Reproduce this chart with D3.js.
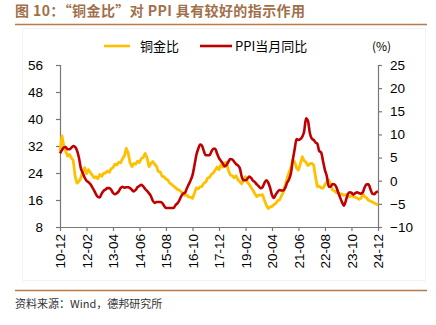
<!DOCTYPE html>
<html><head><meta charset="utf-8">
<script src="https://cdn.jsdelivr.net/npm/d3@7"></script>
<style>
html,body{margin:0;padding:0;background:#fff;}
svg{display:block;font-family:"Liberation Sans",Arial,sans-serif;}
</style></head>
<body>
<svg id="c" width="436" height="325"></svg>
<script>
// ---- data ----
const startMonth = "2010-12";
const tickLabels = ["10-12","12-02","13-04","14-06","15-08","16-10","17-12","19-02","20-04","21-06","22-08","23-10","24-12"];
const seriesNames = ["铜金比","PPI当月同比"];
// copper/gold ratio (left axis), monthly 2010-12 .. 2024-12
const copperGold = [
30.5,35.0,32.0,30.5,29.0,29.5,28.5,27.8,23.0,21.0,21.5,22.5,
24.5,25.6,23.8,25.0,24.2,23.4,22.6,22.9,22.3,23.6,23.0,23.9,
24.0,24.6,24.2,25.2,25.6,26.6,26.4,27.2,27.0,28.2,29.0,31.3,
30.0,27.0,25.9,26.8,26.6,27.5,27.1,28.3,28.6,29.8,28.5,25.9,
26.8,27.4,26.6,26.0,24.4,24.3,23.0,22.9,22.2,21.9,21.0,20.6,
20.1,19.7,19.1,19.0,18.4,18.1,17.4,17.5,16.9,16.8,16.5,18.0,
19.6,19.3,19.9,20.0,21.0,21.3,22.5,22.7,23.6,24.0,24.9,25.8,
25.0,26.4,25.8,26.9,27.2,24.8,23.4,23.2,22.6,23.2,22.0,21.4,
20.8,22.0,22.9,21.3,20.6,19.7,18.9,17.8,17.0,17.5,17.4,17.6,
16.0,14.5,13.5,13.9,14.1,14.6,15.0,15.8,16.0,17.2,18.3,20.5,
22.5,24.2,25.6,27.9,27.3,25.5,24.9,26.7,28.8,27.6,27.2,26.2,
26.7,26.9,26.3,23.0,19.9,20.1,19.6,19.5,20.6,21.4,21.9,20.3,
19.0,18.7,18.2,18.1,17.7,17.8,17.4,17.6,17.1,17.0,17.3,16.9,
16.8,16.6,16.2,16.5,17.8,17.0,16.6,15.9,15.7,15.4,15.1,14.8,
14.5];
// PPI YoY % (right axis), monthly 2010-12 .. 2024-12
const ppi = [
5.9,6.6,7.2,7.3,6.8,6.8,7.1,7.5,7.3,6.5,5.0,2.7,1.7,
0.7,0.0,-0.3,-0.7,-1.4,-2.1,-2.9,-3.5,-3.6,-2.8,-2.2,-1.9,
-1.6,-1.6,-1.9,-2.6,-2.9,-2.7,-2.3,-1.6,-1.3,-1.5,-1.4,-1.4,
-1.6,-2.0,-2.3,-2.0,-1.4,-1.1,-0.9,-1.2,-1.8,-2.2,-2.7,-3.3,
-4.3,-4.8,-4.6,-4.6,-4.6,-4.8,-5.4,-5.9,-5.9,-5.9,-5.9,-5.9,
-5.3,-4.9,-4.3,-3.4,-2.8,-2.6,-1.7,-0.8,0.1,1.2,3.3,5.5,
6.9,7.8,7.6,6.4,5.5,5.5,5.5,6.3,6.9,6.9,5.8,4.9,
4.3,3.7,3.1,3.4,4.1,4.7,4.6,4.1,3.6,3.3,2.7,0.9,
0.1,0.1,0.4,0.9,0.6,0.0,-0.3,-0.8,-1.2,-1.6,-1.4,-0.5,
0.1,-0.4,-1.5,-3.1,-3.7,-3.0,-2.4,-2.0,-2.1,-2.1,-1.5,-0.4,
0.3,1.7,4.4,6.8,9.0,8.8,9.0,9.5,10.7,13.5,12.9,10.3,
9.1,8.8,8.3,8.0,6.4,6.1,4.2,2.3,0.9,-1.3,-1.3,-0.7,
-0.8,-1.4,-2.5,-3.6,-4.6,-5.4,-4.4,-3.0,-2.5,-2.6,-3.0,-2.7,
-2.5,-2.7,-2.8,-2.5,-1.4,-0.8,-0.8,-1.8,-2.8,-2.9,-2.5,-2.3];
const leftTicks = [8,16,24,32,40,48,56];
const rightTicks = [-10,-5,0,5,10,15,20,25];

// ---- chart ----
const svg = d3.select("#c");
const brown = "#b97a4a";
const L = 60, R = 378, T = 65, B = 227;

const parse = d3.timeParse("%Y-%m");
const t0 = parse(startMonth);
const dates = copperGold.map((_, i) => d3.timeMonth.offset(t0, i));
const tickDates = tickLabels.map(s => parse("20" + s));

const x = d3.scaleTime().domain([dates[0], dates[dates.length - 1]]).range([L, R]);
const yL = d3.scaleLinear().domain([8, 56]).range([B, T]);
const yR = d3.scaleLinear().domain([-10, 25]).range([B, T]);

// faint frame
svg.append("rect").attr("x", 22.5).attr("y", 28.5).attr("width", 403).attr("height", 252)
  .attr("fill", "none").attr("stroke", "#f3f3f3");

// title
svg.append("text").attr("x", 15).attr("y", 16)
  .attr("font-family", "'Noto Sans CJK SC',sans-serif").attr("font-weight", "bold")
  .attr("font-size", 14).attr("fill", "#a0704a").attr("letter-spacing", 0.4)
  .text("图 10：“铜金比”对 PPI 具有较好的指示作用");
svg.append("line").attr("x1", 15).attr("x2", 427).attr("y1", 24.5).attr("y2", 24.5)
  .attr("stroke", brown).attr("stroke-width", 1.6);

// footer
svg.append("line").attr("x1", 15).attr("x2", 427).attr("y1", 290.5).attr("y2", 290.5)
  .attr("stroke", brown).attr("stroke-width", 1.6);
svg.append("text").attr("x", 15).attr("y", 308)
  .attr("font-family", "'Noto Sans CJK SC',sans-serif")
  .attr("font-size", 11).attr("fill", "#333")
  .text("资料来源：Wind，德邦研究所");

// axes
const axisColor = "#777";
const gL = svg.append("g").attr("transform", `translate(${L},0)`)
  .call(d3.axisLeft(yL).tickValues(leftTicks).tickSize(4).tickPadding(13).tickFormat(d3.format("d")));
const gR = svg.append("g").attr("transform", `translate(${R},0)`)
  .call(d3.axisRight(yR).tickValues(rightTicks).tickSize(4).tickPadding(8).tickFormat(d3.format("d")));
const gB = svg.append("g").attr("transform", `translate(0,${B})`)
  .call(d3.axisBottom(x).tickValues(tickDates).tickSize(4).tickFormat((d, i) => tickLabels[i]));
[gL, gR, gB].forEach(g => {
  g.select(".domain").attr("stroke", axisColor).attr("stroke-width", 1.2);
  g.selectAll(".tick line").attr("stroke", axisColor).attr("stroke-width", 1.2);
  g.selectAll("text").attr("font-size", 13.5).attr("fill", "#000")
    .attr("font-family", "'Liberation Sans',Arial,sans-serif");
});
gL.select(".domain").attr("d", `M0.5,${T}V${B}`);
gR.select(".domain").attr("d", `M0.5,${T}V${B}`);
gB.select(".domain").attr("d", `M${L},0.5H${R}`);
gB.selectAll("text")
  .attr("transform", "rotate(-90)")
  .attr("text-anchor", "end")
  .attr("dy", "0.35em")
  .attr("x", -7).attr("y", 0);

// lines
const lineL = d3.line().x((d, i) => x(dates[i])).y(d => yL(d)).curve(d3.curveLinear);
const lineR = d3.line().x((d, i) => x(dates[i])).y(d => yR(d)).curve(d3.curveMonotoneX);
svg.append("path").datum(copperGold).attr("d", lineL)
  .attr("fill", "none").attr("stroke", "#FFC000").attr("stroke-width", 2.8).attr("stroke-linejoin", "round");
svg.append("path").datum(ppi).attr("d", lineR)
  .attr("fill", "none").attr("stroke", "#C00000").attr("stroke-width", 2.6).attr("stroke-linejoin", "round");

// legend
const legend = [
  {name: seriesNames[0], color: "#FFC000", x1: 104, x2: 130, tx: 140},
  {name: seriesNames[1], color: "#C00000", x1: 200, x2: 232, tx: 235}
];
legend.forEach(l => {
  svg.append("line").attr("x1", l.x1).attr("x2", l.x2).attr("y1", 46).attr("y2", 46)
    .attr("stroke", l.color).attr("stroke-width", 2.6);
  svg.append("text").attr("x", l.tx).attr("y", 50.5)
    .attr("font-family", "'Noto Sans CJK SC',sans-serif").attr("font-size", 13).attr("fill", "#000")
    .text(l.name);
});
svg.append("text").attr("x", 372).attr("y", 50.5)
  .attr("font-family", "'Noto Sans CJK SC',sans-serif").attr("font-size", 12).attr("fill", "#000")
  .text("(%)");
</script>
</body></html>
